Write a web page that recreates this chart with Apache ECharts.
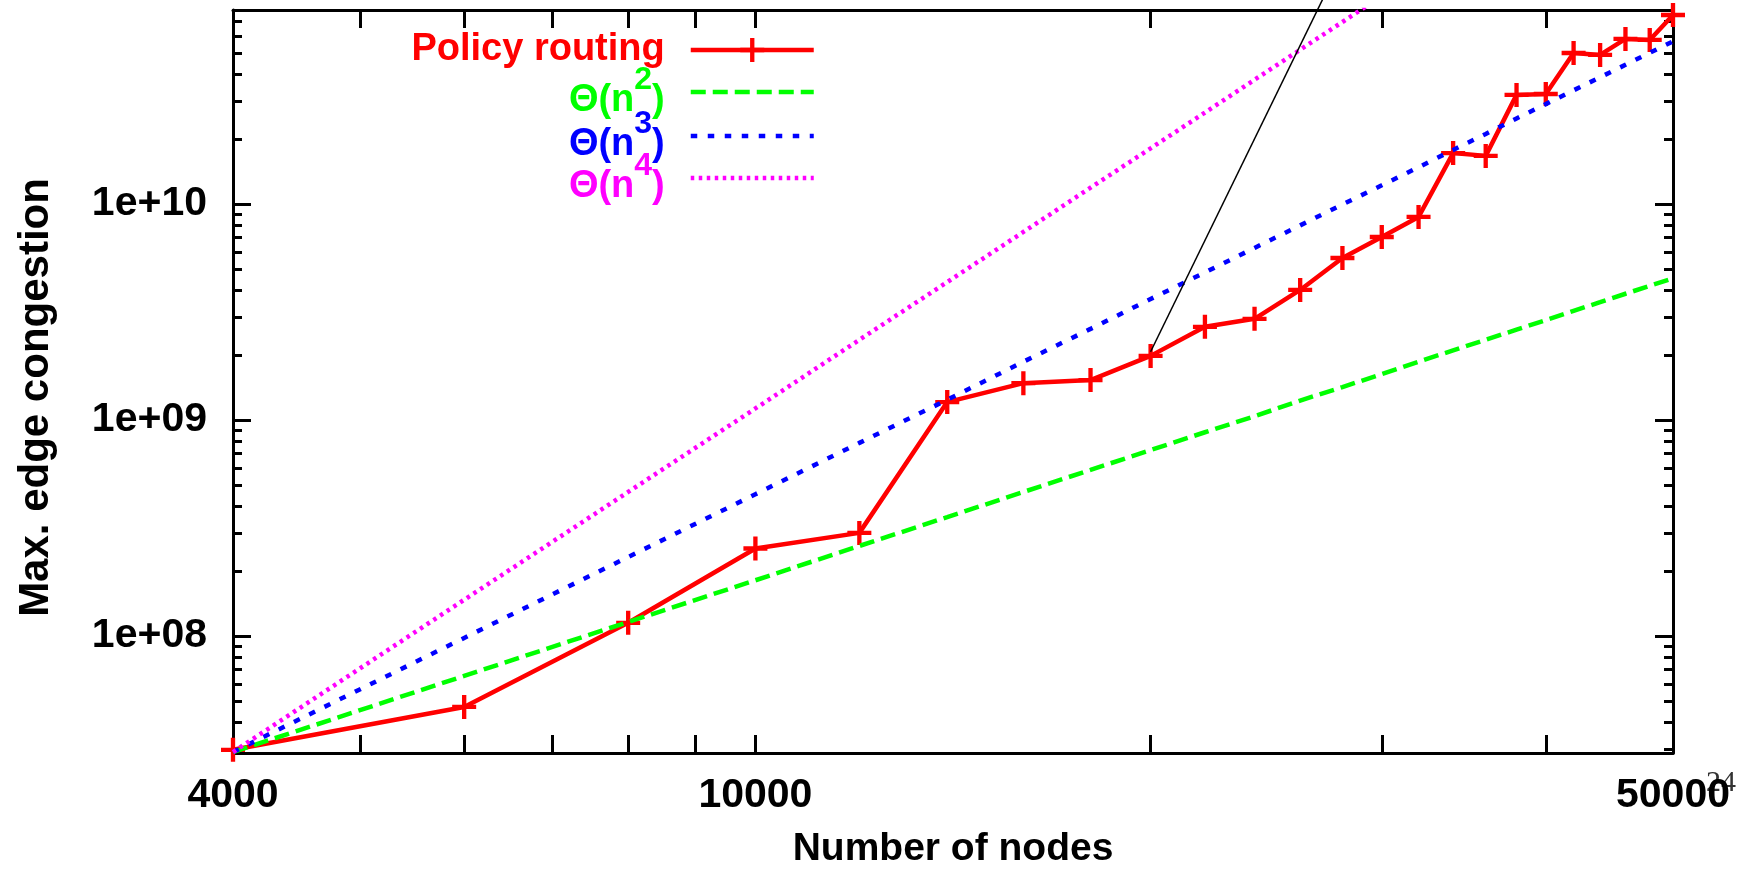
<!DOCTYPE html>
<html>
<head>
<meta charset="utf-8">
<script src="https://cdn.jsdelivr.net/npm/echarts@6/dist/echarts.min.js"></script>
<style>
html,body{margin:0;padding:0;background:#fff;}
#chart{width:1748px;height:878px;}
</style>
</head>
<body>
<div id="chart"></div>
<script>
// ---- data ----
const nodes = [4000, 6000, 8000, 10000, 12000, 14000, 16000, 18000, 20000, 22000, 24000, 26000,
               28000, 30000, 32000, 34000, 36000, 38000, 40000, 42000, 44000, 46000, 48000, 50000];
const policyRouting = [2.97e7, 4.69e7, 1.15e8, 2.54e8, 3.00e8, 1.21e9, 1.48e9, 1.53e9, 1.98e9, 2.70e9, 2.94e9, 4.00e9,
                       5.62e9, 7.03e9, 8.71e9, 1.72e10, 1.67e10, 3.20e10, 3.23e10, 5.00e10, 4.90e10, 5.81e10, 5.75e10, 7.50e10];
const thetaN2 = [2.90e7, 6.53e7, 1.16e8, 1.81e8, 2.61e8, 3.55e8, 4.64e8, 5.87e8, 7.25e8, 8.77e8, 1.04e9, 1.23e9,
                 1.42e9, 1.63e9, 1.86e9, 2.10e9, 2.35e9, 2.62e9, 2.90e9, 3.20e9, 3.51e9, 3.84e9, 4.18e9, 4.53e9];
const thetaN3 = [2.90e7, 9.79e7, 2.32e8, 4.53e8, 7.83e8, 1.24e9, 1.86e9, 2.64e9, 3.63e9, 4.82e9, 6.26e9, 7.96e9,
                 9.95e9, 1.22e10, 1.48e10, 1.78e10, 2.11e10, 2.49e10, 2.90e10, 3.36e10, 3.86e10, 4.41e10, 5.01e10, 5.66e10];
const thetaN4 = [2.90e7, 1.47e8, 4.64e8, 1.13e9, 2.35e9, 4.35e9, 7.42e9, 1.19e10, 1.81e10, 2.65e10, 3.76e10, 5.18e10,
                 6.96e10, 9.18e10, 1.19e11, 1.51e11, 1.90e11, 2.36e11, 2.90e11, 3.52e11, 4.25e11, 5.07e11, 6.01e11, 7.08e11];
const pointerNodes = [20000, 27150];
const pointerValues = [2.07e9, 9.3e10];

const xRange = [4000, 50000];
const yRange = [2.87e7, 7.91e10];
const xTickLabels = [4000, 10000, 50000];
const xTicks = [5000, 6000, 7000, 8000, 9000, 10000, 20000, 30000, 40000];
const yTickLabels = [1e8, 1e9, 1e10];
const yMinorTicks = [3e7, 4e7, 5e7, 6e7, 7e7, 8e7, 9e7,
                     2e8, 3e8, 4e8, 5e8, 6e8, 7e8, 8e8, 9e8,
                     2e9, 3e9, 4e9, 5e9, 6e9, 7e9, 8e9, 9e9,
                     2e10, 3e10, 4e10, 5e10, 6e10, 7e10];

const seriesNames = ['Policy routing', 'Θ(n²)', 'Θ(n³)', 'Θ(n⁴)'];
const supDigits = ['', '2', '3', '4'];

// ---- styling ----
const FONT = '"Liberation Sans", Arial, Helvetica, sans-serif';
const RED = '#ff0000', GREEN = '#00ff00', BLUE = '#0000ff', MAGENTA = '#ff00ff';
const pair = (xs, ys) => xs.map((x, i) => [x, ys[i]]);
const axisLine = {show: true, onZero: false, lineStyle: {color: '#000', width: 3}};
const tickStyle = {color: '#000', width: 3};

function xAxisCfg(pos, labels) {
  return {
    type: 'log', logBase: 10, min: xRange[0], max: xRange[1], position: pos,
    axisLine: axisLine,
    axisTick: {show: true, inside: true, length: 18, lineStyle: tickStyle, customValues: xTicks},
    minorTick: {show: false}, splitLine: {show: false},
    axisLabel: labels ? {
      show: true, customValues: xTickLabels, margin: 22, fontSize: 41, fontWeight: 'bold',
      fontFamily: FONT, color: '#000', formatter: v => String(Math.round(v))
    } : {show: false},
    name: labels ? 'Number of nodes' : '',
    nameLocation: 'middle', nameGap: 77,
    nameTextStyle: {fontSize: 39, fontWeight: 'bold', fontFamily: FONT, color: '#000'}
  };
}
function yAxisCfg(pos, major, labels) {
  return {
    type: 'log', logBase: 10, min: yRange[0], max: yRange[1], position: pos,
    axisLine: major ? axisLine : {show: false},
    axisTick: {show: true, inside: true, length: major ? 18 : 9, lineStyle: tickStyle,
               customValues: major ? yTickLabels : yMinorTicks},
    minorTick: {show: false}, splitLine: {show: false},
    axisLabel: labels ? {
      show: true, customValues: yTickLabels, margin: 26, fontSize: 41, fontWeight: 'bold',
      fontFamily: FONT, color: '#000',
      formatter: v => { const e = Math.round(Math.log10(v)); return '1e+' + (e < 10 ? '0' : '') + e; }
    } : {show: false},
    name: labels ? 'Max. edge congestion' : '',
    nameLocation: 'middle', nameGap: 176, nameMoveOverlap: false,
    nameTextStyle: {fontSize: 42, fontWeight: 'bold', fontFamily: FONT, color: '#000', padding: [0, 32, 0, 0]}
  };
}

function legendCfg(i, color, top) {
  const base = {
    data: [{name: seriesNames[i]}],
    orient: 'vertical', align: 'right', right: 932, top: top, padding: 0,
    itemWidth: 123, itemHeight: 30, selectedMode: false,
    lineStyle: {width: 4.5},
    textStyle: {fontSize: 38, fontWeight: 'bold', fontFamily: FONT, color: color, padding: [0, 21, 0, 0]}
  };
  if (i > 0) {
    base.itemStyle = {opacity: 0};
    base.formatter = '{b|Θ(n}{s|' + supDigits[i] + '}{b|)}';
    base.textStyle.rich = {
      b: {fontSize: 38, fontWeight: 'bold', fontFamily: FONT, color: color, lineHeight: 56, verticalAlign: 'bottom'},
      s: {fontSize: 32, fontWeight: 'bold', fontFamily: FONT, color: color, lineHeight: 30, verticalAlign: 'top'}
    };
  }
  return base;
}

const chart = echarts.init(document.getElementById('chart'), null, {renderer: 'canvas'});
chart.setOption({
  animation: false,
  backgroundColor: '#fff',
  grid: {left: 233, right: 75, top: 10, bottom: 125, containLabel: false, outerBoundsMode: 'none'},
  xAxis: [xAxisCfg('bottom', true), xAxisCfg('top', false)],
  yAxis: [yAxisCfg('left', true, true), yAxisCfg('left', false, false),
          yAxisCfg('right', true, false), yAxisCfg('right', false, false)],
  legend: [legendCfg(0, RED, 31), legendCfg(1, GREEN, 64), legendCfg(2, BLUE, 108), legendCfg(3, MAGENTA, 150)],
  graphic: [{
    type: 'text', x: 1721, y: 783,
    style: {text: '24', font: '30px "Liberation Serif", "Times New Roman", serif', fill: '#333',
            align: 'center', verticalAlign: 'middle'}
  }],
  series: [
    {
      name: seriesNames[0], type: 'line', data: pair(nodes, policyRouting),
      symbol: 'path://M-1,-0.18H1V0.18H-1Z M-0.18,-1H0.18V1H-0.18Z', symbolSize: 24, showAllSymbol: true,
      lineStyle: {color: RED, width: 4.5}, itemStyle: {color: RED}, z: 2
    },
    {
      name: seriesNames[1], type: 'line', data: pair(nodes, thetaN2), symbol: 'none', showSymbol: false,
      lineStyle: {color: GREEN, width: 4.5, type: [15, 7]}, itemStyle: {color: GREEN}, z: 3
    },
    {
      name: seriesNames[2], type: 'line', data: pair(nodes, thetaN3), symbol: 'none', showSymbol: false,
      lineStyle: {color: BLUE, width: 4.5, type: [6.5, 10.5]}, itemStyle: {color: BLUE}, z: 4
    },
    {
      name: seriesNames[3], type: 'line', data: pair(nodes, thetaN4), symbol: 'none', showSymbol: false,
      lineStyle: {color: MAGENTA, width: 4.5, type: [3.5, 4.5]}, itemStyle: {color: MAGENTA}, z: 5
    },
    {
      name: 'pointer', type: 'line', data: pair(pointerNodes, pointerValues), symbol: 'none', showSymbol: false,
      clip: false, lineStyle: {color: '#000', width: 1.5}, z: 6
    }
  ]
});
</script>
</body>
</html>
